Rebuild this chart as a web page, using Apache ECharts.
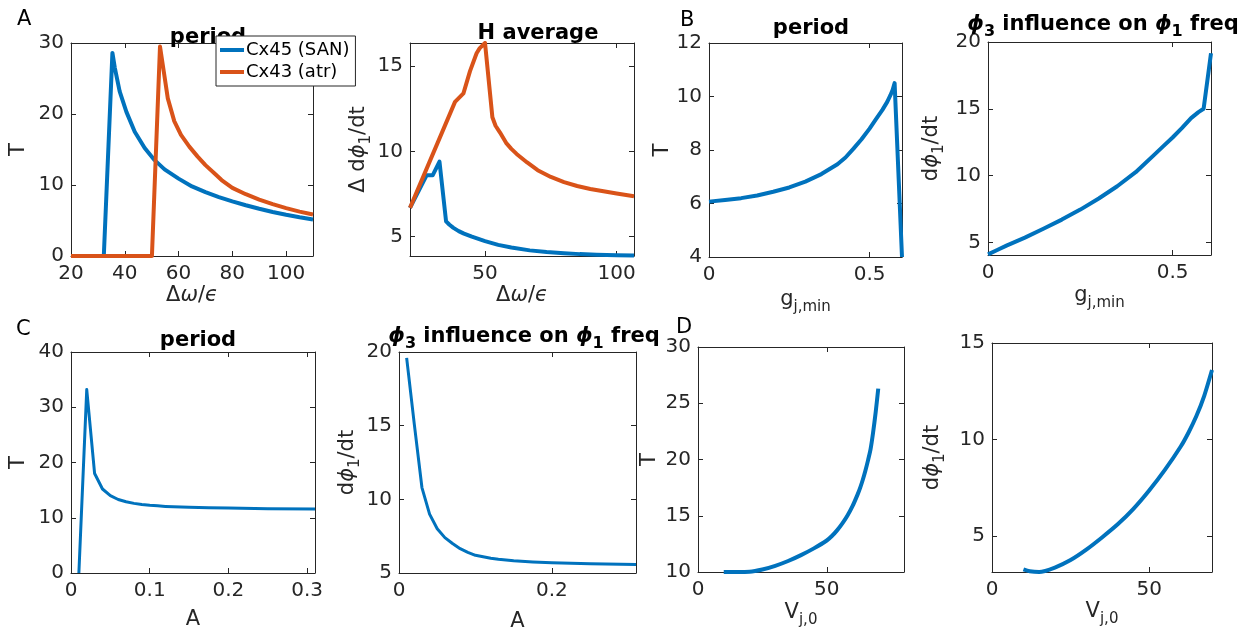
<!DOCTYPE html>
<html><head><meta charset="utf-8">
<script src="https://cdn.jsdelivr.net/npm/echarts@6/dist/echarts.min.js"></script>
<style>html,body{margin:0;padding:0;background:#fff}#c{width:1260px;height:643px}</style>
</head><body><div id="c"></div>
<script>
// ---------- DATA ----------
// Panel A, period (T vs Δω/ϵ)
const aPeriodCx45X = [20,32.2,35.4,36.3,38.1,40.6,43.7,47.4,51.1,54.8,60,65,70,75,80,85,90,95,100,105,110];
const aPeriodCx45Y = [0,0,28.6,26.5,23.2,20.3,17.5,15.2,13.5,12.2,10.9,9.8,9.0,8.3,7.7,7.15,6.65,6.2,5.8,5.45,5.15];
const aPeriodCx43X = [20,50.1,53.1,54.7,56,58.4,60.9,64,67.1,70,73.2,76,80,85,90,95,100,105,110];
const aPeriodCx43Y = [0,0,29.5,25.5,22.2,19.0,17.05,15.4,14.0,12.8,11.7,10.7,9.6,8.7,7.95,7.3,6.75,6.25,5.85];
// Panel A, H average (Δ dϕ1/dt vs Δω/ϵ)
const aHavgCx45X = [21.5,27.8,30.1,32.7,35.2,36.5,38,40,42,45,50,55,60,67,73.4,80,86,92.4,100,106.6];
const aHavgCx45Y = [6.69,8.6,8.6,9.4,5.9,5.7,5.52,5.33,5.18,5.0,4.74,4.52,4.37,4.2,4.1,4.03,3.98,3.95,3.92,3.9];
const aHavgCx43X = [21.5,38.6,41.8,44.3,46.8,48,50,52.8,54,55.7,58,60,62,66,70,75,80,85,90,95,100,106.6];
const aHavgCx43Y = [6.69,12.9,13.4,14.7,15.75,16.05,16.35,12.0,11.5,11.1,10.5,10.15,9.85,9.35,8.9,8.5,8.2,7.97,7.8,7.66,7.53,7.37];
// Panel B, period (T vs g_j,min)
const bPeriodX = [0,0.05,0.1,0.15,0.2,0.25,0.3,0.35,0.4,0.425,0.45,0.475,0.5,0.52,0.54,0.555,0.565,0.572,0.578,0.601];
const bPeriodY = [6.07,6.13,6.2,6.3,6.44,6.6,6.82,7.1,7.47,7.72,8.05,8.4,8.8,9.15,9.5,9.8,10.05,10.25,10.5,4.0];
// Panel B, ϕ3 influence (dϕ1/dt vs g_j,min)
const bInflX = [0,0.025,0.05,0.1,0.15,0.2,0.25,0.3,0.35,0.4,0.45,0.475,0.5,0.525,0.55,0.57,0.584,0.604];
const bInflY = [4.1,4.42,4.75,5.35,6.02,6.7,7.45,8.28,9.2,10.25,11.55,12.2,12.85,13.55,14.3,14.75,15.0,19.15];
// Panel C, period (T vs A)
const cPeriodX = [0.01,0.02,0.03,0.04,0.05,0.06,0.07,0.08,0.09,0.1,0.11,0.12,0.13,0.15,0.175,0.2,0.25,0.31];
const cPeriodY = [0,33.2,18,15.2,14,13.3,12.9,12.6,12.4,12.25,12.15,12.05,11.98,11.9,11.82,11.75,11.65,11.6];
// Panel C, ϕ3 influence (dϕ1/dt vs A)
const cInflX = [0.01,0.02,0.03,0.04,0.05,0.06,0.07,0.08,0.09,0.1,0.11,0.12,0.13,0.15,0.175,0.2,0.25,0.31];
const cInflY = [19.6,15.1,10.8,9.0,8.0,7.4,7.0,6.65,6.4,6.2,6.1,6.0,5.93,5.83,5.75,5.69,5.62,5.58];
// Panel D, period (T vs V_j,0)
const dPeriodX = [10,12,15,20,25,30,35,40,45,50,52,54,56,58,60,62,63,64,65,66,67,68,69,70];
const dPeriodY = [10,10,10,10.02,10.22,10.55,10.98,11.5,12.1,12.8,13.2,13.7,14.3,15.0,15.85,16.9,17.5,18.2,19.0,19.9,20.9,22.4,24.2,26.3];
// Panel D, ϕ3 influence (dϕ1/dt vs V_j,0)
const dInflX = [10,12,15,20,25,30,35,40,45,50,55,60,62.5,65,67.5,70];
const dInflY = [3.27,3.17,3.13,3.36,3.75,4.29,4.92,5.6,6.4,7.35,8.42,9.62,10.35,11.2,12.25,13.6];

// tick values
const aPeriodXTicks = [20,40,60,80,100], aPeriodYTicks = [0,10,20,30];
const aHavgXTicks = [50,100], aHavgYTicks = [5,10,15];
const bPeriodXTicks = [0,0.5], bPeriodYTicks = [4,6,8,10,12];
const bInflXTicks = [0,0.5], bInflYTicks = [5,10,15,20];
const cPeriodXTicks = [0,0.1,0.2,0.3], cPeriodYTicks = [0,10,20,30,40];
const cInflXTicks = [0,0.2], cInflYTicks = [5,10,15,20];
const dPeriodXTicks = [0,50], dPeriodYTicks = [10,15,20,25,30];
const dInflXTicks = [0,50], dInflYTicks = [5,10,15];

const seriesNames = ['Cx45 (SAN)', 'Cx43 (atr)'];
const titles = ['period','H average','period','{i|ϕ}{sub|3} influence on {i|ϕ}{sub|1} freq','period','{i|ϕ}{sub|3} influence on {i|ϕ}{sub|1} freq'];
const panelLetters = ['A','B','C','D'];

// ---------- STYLE / LAYOUT ----------
const FONT = 'DejaVu Sans';
const INK = '#262626';
const BLUE = '#0072BD', ORANGE = '#D95319';
const zip = (xs, ys) => xs.map((x, i) => [x, ys[i]]);

const subRich = {
  i: {fontFamily: FONT, fontStyle: 'italic', fontSize: 21, color: INK},
  sub: {fontFamily: FONT, fontSize: 15, color: INK, padding: [15, 0, 0, 0]},
  n: {fontFamily: FONT, fontSize: 21, color: INK}
};
const subRichBold = {
  i: {fontFamily: FONT, fontStyle: 'italic', fontWeight: 'bold', fontSize: 21, color: '#000'},
  sub: {fontFamily: FONT, fontWeight: 'bold', fontSize: 16, color: '#000', padding: [15, 0, 0, 0]}
};

const panels = [
  {box:[71,43,242,213], x:[20,110,aPeriodXTicks], y:[0,30,aPeriodYTicks], xName:'Δ{i|ω}/{i|ϵ}', xGap:24, yName:'T', yGap:42,
   series:[[aPeriodCx45X,aPeriodCx45Y,BLUE,seriesNames[0]],[aPeriodCx43X,aPeriodCx43Y,ORANGE,seriesNames[1]]], lw:4},
  {box:[410,43,224,213], x:[21.5,106.6,aHavgXTicks], y:[3.87,16.35,aHavgYTicks], xName:'Δ{i|ω}/{i|ϵ}', xGap:27, yName:'Δ d{i|ϕ}{sub|1}/dt', yGap:33,
   series:[[aHavgCx45X,aHavgCx45Y,BLUE,seriesNames[0]],[aHavgCx43X,aHavgCx43Y,ORANGE,seriesNames[1]]], lw:4},
  {box:[709,43,193,214], x:[0,0.601,bPeriodXTicks], y:[4,12,bPeriodYTicks], xName:'g{sub|j,min}', xGap:28, yName:'T', yGap:32,
   series:[[bPeriodX,bPeriodY,BLUE,null]], lw:4},
  {box:[988,42,223,213], x:[0,0.604,bInflXTicks], y:[4.05,20,bInflYTicks], xName:'g{sub|j,min}', xGap:26, yName:'d{i|ϕ}{sub|1}/dt', yGap:41,
   series:[[bInflX,bInflY,BLUE,null]], lw:4},
  {box:[71,352,244,221], x:[0,0.31,cPeriodXTicks], y:[0,40,cPeriodYTicks], xName:'A', xGap:36, yName:'T', yGap:42,
   series:[[cPeriodX,cPeriodY,BLUE,null]], lw:3},
  {box:[399,352,237,221], x:[0,0.31,cInflXTicks], y:[5,20,cInflYTicks], xName:'A', xGap:38, yName:'d{i|ϕ}{sub|1}/dt', yGap:32,
   series:[[cInflX,cInflY,BLUE,null]], lw:3},
  {box:[698,347,206,225], x:[0,80,dPeriodXTicks], y:[10,30,dPeriodYTicks], xName:'V{sub|j,0}', xGap:26, yName:'T', yGap:38,
   series:[[dPeriodX,dPeriodY,BLUE,null]], lw:4, smooth:0.25},
  {box:[992,343,220,229], x:[0,70,dInflXTicks], y:[3.13,15,dInflYTicks], xName:'V{sub|j,0}', xGap:24, yName:'d{i|ϕ}{sub|1}/dt', yGap:44,
   series:[[dInflX,dInflY,BLUE,null]], lw:4, smooth:0.25}
];

const grid = [], xAxis = [], yAxis = [], series = [];
const tickStyle = (vals) => ({show:true, inside:true, length:5, customValues:vals, lineStyle:{color:INK, width:1}});
const lineSt = {show:true, onZero:false, lineStyle:{color:INK, width:1}};
panels.forEach((p, k) => {
  const [l,t,w,h] = p.box;
  grid.push({left:l, top:t, width:w, height:h, outerBoundsMode:'none', containLabel:false});
  const xb = {type:'value', gridIndex:k, min:p.x[0], max:p.x[1], splitLine:{show:false}, axisLine:lineSt};
  xAxis.push(Object.assign({}, xb, {position:'bottom', axisTick:tickStyle(p.x[2]),
    axisLabel:{customValues:p.x[2], fontFamily:FONT, fontSize:20, color:INK, margin:8},
    name:p.xName, nameLocation:'middle', nameGap:p.xGap,
    nameTextStyle:{fontFamily:FONT, fontSize:21, color:INK, rich:subRich}}));
  xAxis.push(Object.assign({}, xb, {position:'top', axisTick:tickStyle(p.x[2]), axisLabel:{show:false}}));
  const yb = {type:'value', gridIndex:k, min:p.y[0], max:p.y[1], splitLine:{show:false}, axisLine:lineSt};
  yAxis.push(Object.assign({}, yb, {position:'left', axisTick:tickStyle(p.y[2]),
    axisLabel:{customValues:p.y[2], fontFamily:FONT, fontSize:20, color:INK, margin:7},
    name:p.yName, nameLocation:'middle', nameGap:p.yGap, nameRotate:90,
    nameTextStyle:{fontFamily:FONT, fontSize:21, color:INK, rich:subRich}}));
  yAxis.push(Object.assign({}, yb, {position:'right', axisTick:tickStyle(p.y[2]), axisLabel:{show:false}}));
  p.series.forEach(s => {
    series.push({type:'line', name:s[3] || undefined, xAxisIndex:2*k, yAxisIndex:2*k,
      data:zip(s[0], s[1]), showSymbol:false, symbol:'none', color:s[2],
      smooth:p.smooth || false,
      lineStyle:{color:s[2], width:p.lw, join:'round', cap:'butt'}, z:3});
  });
});

const titleBox = [[203,22],[533,18],[806,13],[1098,4],[193,325],[519,316]];
const title = titles.map((txt, i) => ({
  text: txt, left: titleBox[i][0], top: titleBox[i][1], textAlign:'center',
  textStyle:{fontFamily:FONT, fontWeight:'bold', fontSize:21, color:'#000', rich:subRichBold}
}));
const letterPos = [[12,4],[675,5],[11,314],[671,312]];
panelLetters.forEach((L, i) => title.push({text:L, left:letterPos[i][0], top:letterPos[i][1],
  textStyle:{fontFamily:FONT, fontWeight:'normal', fontSize:21, color:'#000'}}));

const chart = echarts.init(document.getElementById('c'), null, {renderer:'canvas'});
chart.setOption({
  animation:false,
  backgroundColor:'#fff',
  title, grid, xAxis, yAxis, series,
  legend:{data:seriesNames, left:216, top:36, orient:'vertical', icon:'rect', itemWidth:24, itemHeight:4,
    itemGap:4, padding:[5,6,5,4], backgroundColor:'#fff', borderColor:INK, borderWidth:1, borderRadius:0,
    selectedMode:false, z:10,
    textStyle:{fontFamily:FONT, fontSize:18, color:'#000', padding:[0,0,0,-3]}}
});
</script></body></html>
